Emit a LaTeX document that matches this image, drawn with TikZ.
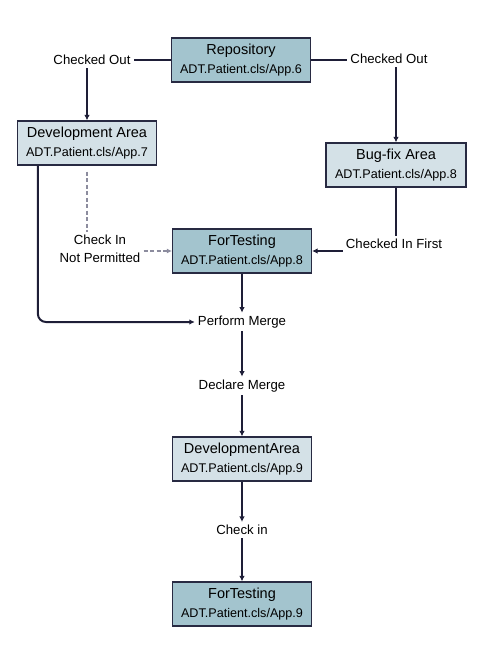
\documentclass[tikz,border=0pt]{standalone}
\usepackage{fontspec}
\setmainfont{Liberation Sans}
\usetikzlibrary{arrows.meta,calc}
\definecolor{darkfill}{RGB}{163,196,206}
\definecolor{lightfill}{RGB}{212,225,231}
\definecolor{edge}{RGB}{40,42,66}
\definecolor{lineclr}{RGB}{30,30,55}
\definecolor{dashclr}{RGB}{140,140,158}
\tikzset{
  box/.style={draw=edge, line width=1.2pt, minimum width=139pt, minimum height=44pt, align=center, inner sep=0pt},
  darkbox/.style={box, fill=darkfill},
  lightbox/.style={box, fill=lightfill},
  lbl/.style={font=\fontsize{13.2}{15}\selectfont, inner sep=3pt, align=center, text=black},
  conn/.style={draw=lineclr, line width=2pt},
  arr/.style={conn, -{Latex[length=5.5pt,width=5.5pt]}},
  grayline/.style={draw=dashclr, line width=1.3pt, dash pattern=on 4pt off 2.5pt},
}
\newcommand{\boxtext}[2]{{\fontsize{14.5}{16}\selectfont #1}\\[6.5pt]{\fontsize{12.6}{14}\selectfont #2}}
\begin{document}
\begin{tikzpicture}[x=1pt,y=-1pt]
\useasboundingbox (0,0) rectangle (483,650);
\node[darkbox] (repo) at (241,60) {\boxtext{Repository}{ADT.Patient.cls/App.6}};
\node[lightbox] (dev) at (87,143) {\boxtext{Development Area}{ADT.Patient.cls/App.7}};
\node[lightbox, minimum width=140pt] (bug) at (396,165) {\boxtext{Bug-fix Area}{ADT.Patient.cls/App.8}};
\node[darkbox] (ft8) at (242,251) {\boxtext{ForTesting}{ADT.Patient.cls/App.8}};
\node[lightbox] (dev9) at (242,459) {\boxtext{DevelopmentArea}{ADT.Patient.cls/App.9}};
\node[darkbox] (ft9) at (242,604) {\boxtext{ForTesting}{ADT.Patient.cls/App.9}};

\node[lbl] (co1) at (92,60) {Checked Out};
\node[lbl] (co2) at (389,59) {Checked Out};
\node[lbl] (ci) at (100,249) {Check In\\[2.5pt]Not Permitted};
\node[lbl] (cif) at (394,244) {Checked In First};
\node[lbl] (pm) at (242,322) {Perform Merge};
\node[lbl] (dm) at (242,386) {Declare Merge};
\node[lbl] (chk) at (242,530) {Check in};

\draw[conn] (repo.west) -- (repo.west -| co1.east);
\draw[conn] (repo.east) -- (repo.east -| co2.west);
\draw[arr] (co1.south -| dev.north) -- (dev.north);
\draw[arr] (co2.south -| bug.north) -- (bug.north);
\draw[arr, rounded corners=8pt] ($(dev.south west)+(21,0)$) |- (pm.west);
\draw[grayline, shorten <=6pt] (dev.south) -- (ci.north -| dev.south);
\draw[grayline, -{Latex[length=5pt,width=5pt]}] (ci.east |- ft8.west) -- (ft8.west);
\draw[conn] (bug.south) -- (cif.north -| bug.south);
\draw[arr] (cif.west |- ft8.east) -- (ft8.east);
\draw[arr] (ft8.south) -- (pm.north);
\draw[arr] (pm.south) -- (dm.north);
\draw[arr] (dm.south) -- (dev9.north);
\draw[arr] (dev9.south) -- (chk.north);
\draw[arr] (chk.south) -- (ft9.north);
\end{tikzpicture}
\end{document}
